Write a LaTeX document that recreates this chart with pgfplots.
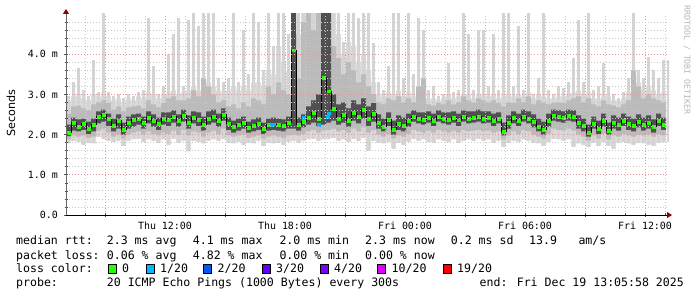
\documentclass[border=0pt]{standalone}
\usepackage{fontspec}
\setmainfont{DejaVu Sans}
\newfontfamily\dvm{DejaVu Sans Mono}
\usepackage{pgfplots}
\usepackage{pgfplotstable}
\pgfplotsset{compat=1.18}
\usepgfplotslibrary{fillbetween}
\usetikzlibrary{arrows.meta}

\definecolor{smokeA}{HTML}{DCDCDC}
\definecolor{smokeS}{HTML}{D4D4D4}
\definecolor{smokeB}{HTML}{BBBBBB}
\definecolor{smokeC}{HTML}{505050}
\definecolor{loss0}{HTML}{26FF00}
\definecolor{loss1}{HTML}{00B8FF}
\definecolor{loss2}{HTML}{0059FF}
\definecolor{loss3}{HTML}{5E00FF}
\definecolor{loss4}{HTML}{7E00FF}
\definecolor{loss10}{HTML}{DD00FF}
\definecolor{loss19}{HTML}{FF0000}
\definecolor{mgrid}{HTML}{F09090}
\definecolor{ngrid}{HTML}{C8C8C8}
\definecolor{arrowred}{HTML}{8B0000}

\newcommand\lf{\dvm\fontsize{11.6pt}{13pt}\selectfont}
\newcommand\tkf{\dvm\fontsize{10pt}{12pt}\selectfont}

% h = hours since Thu 00:00; med = median rtt (ms); lo/hi = min/max ping;
% top = top of the dense light smoke; l2/h2, l3/h3 = inner smoke bands
\pgfplotstableread{
h     med  lo   hi   l2   h2   l3   h3   top
7.05  2.05 1.78 2.95 1.88 2.52 1.96 2.25 2.85
7.30  2.30 1.85 3.30 1.98 2.70 2.10 2.42 2.95
7.55  2.20 1.82 3.65 1.95 2.72 2.08 2.38 3.00
7.80  2.28 1.75 3.10 1.98 2.65 2.12 2.40 2.90
8.05  2.15 1.80 2.95 1.92 2.60 2.02 2.32 2.85
8.30  2.25 1.78 3.85 1.95 2.75 2.08 2.40 3.00
8.55  2.45 1.95 3.05 2.10 2.80 2.28 2.58 2.95
8.80  2.50 1.90 5.20 2.15 2.85 2.32 2.62 3.05
9.05  2.40 1.85 3.05 2.05 2.78 2.22 2.52 2.95
9.30  2.22 1.82 2.95 1.95 2.62 2.08 2.40 2.85
9.55  2.35 1.85 3.00 2.00 2.70 2.15 2.50 2.90
9.80  2.12 1.72 2.90 1.90 2.58 2.00 2.30 2.80
10.05 2.30 1.85 3.00 2.00 2.68 2.15 2.45 2.90
10.30 2.38 1.88 2.95 2.05 2.70 2.20 2.50 2.85
10.55 2.40 1.90 3.05 2.08 2.72 2.25 2.52 2.95
10.80 2.30 1.82 3.10 2.00 2.65 2.15 2.45 2.90
11.05 2.42 1.88 4.90 2.08 2.85 2.28 2.58 3.05
11.30 2.35 1.85 3.70 2.02 2.75 2.20 2.50 3.00
11.55 2.28 1.80 3.00 1.98 2.68 2.12 2.42 2.90
11.80 2.40 1.88 3.20 2.05 2.78 2.25 2.55 3.00
12.05 2.38 1.75 4.00 2.02 2.90 2.22 2.55 3.05
12.30 2.45 1.90 4.50 2.10 2.95 2.30 2.60 3.10
12.55 2.35 1.80 4.90 2.00 2.85 2.20 2.50 3.00
12.80 2.48 1.85 3.20 2.12 2.85 2.32 2.62 3.05
13.05 2.30 1.58 4.85 1.98 2.90 2.15 2.48 3.10
13.30 2.42 1.85 5.20 2.08 3.10 2.28 2.58 3.20
13.55 2.38 1.82 4.70 2.05 2.95 2.22 2.55 3.10
13.80 2.25 1.78 5.20 1.95 3.40 2.10 2.45 3.40
14.05 2.40 1.85 5.20 2.05 3.20 2.25 2.58 3.30
14.30 2.45 1.88 5.20 2.10 3.00 2.30 2.62 3.20
14.55 2.35 1.85 3.40 2.02 2.80 2.20 2.52 3.10
14.80 2.50 1.90 3.30 2.15 2.85 2.35 2.65 3.05
15.05 2.28 1.80 3.40 1.98 2.70 2.12 2.42 3.10
15.30 2.20 1.78 5.20 1.95 2.75 2.05 2.35 3.20
15.55 2.25 1.82 3.30 1.98 2.65 2.10 2.40 3.10
15.80 2.30 1.75 4.60 2.00 2.80 2.15 2.45 3.20
16.05 2.18 1.80 3.50 1.92 2.70 2.05 2.32 3.10
16.30 2.22 1.78 5.20 1.95 2.90 2.08 2.38 3.30
16.55 2.28 1.85 4.80 1.98 2.85 2.12 2.42 3.30
16.80 2.15 1.72 3.60 1.90 2.75 2.02 2.30 3.20
17.05 2.25 1.80 5.20 1.95 3.20 2.10 2.40 3.60
17.30 2.26 1.78 4.20 1.98 3.00 2.12 2.42 3.50
17.55 2.25 1.80 5.20 1.95 3.30 2.10 2.40 4.20
17.80 2.22 1.75 5.20 1.92 3.10 2.08 2.38 3.80
18.05 2.30 1.82 4.50 1.98 3.00 2.15 2.45 3.60
18.30 4.10 1.85 5.20 2.00 5.20 2.15 5.20 5.20
18.55 2.25 1.80 5.20 1.98 3.40 2.10 2.42 4.50
18.80 2.32 1.85 5.20 2.02 4.80 2.18 2.50 5.20
19.05 2.43 1.88 5.20 2.08 5.20 2.25 2.70 5.20
19.30 2.55 1.90 5.20 2.12 4.60 2.30 2.85 5.20
19.55 2.40 1.85 5.20 2.05 5.20 2.22 3.00 5.20
19.80 3.42 1.88 5.20 2.10 5.20 2.25 5.20 5.20
20.05 3.08 1.90 5.20 2.12 5.20 2.30 5.20 5.20
20.30 2.65 1.92 5.20 2.15 4.20 2.35 3.00 5.20
20.55 2.40 1.85 5.20 2.08 3.90 2.25 2.75 4.50
20.80 2.50 1.88 4.30 2.12 3.50 2.30 2.80 4.00
21.05 2.35 1.82 5.20 2.05 3.80 2.20 2.65 4.30
21.30 2.55 1.90 5.20 2.15 3.60 2.35 2.85 4.20
21.55 2.45 1.85 4.90 2.08 3.30 2.28 2.75 3.80
21.80 2.62 1.92 5.20 2.18 3.50 2.40 2.90 4.00
22.05 2.40 1.60 5.20 2.05 3.20 2.22 2.70 3.60
22.30 2.52 1.85 4.27 2.12 3.00 2.32 2.78 3.30
22.55 2.30 1.80 3.30 2.00 2.80 2.15 2.50 3.00
22.80 2.20 1.78 3.10 1.95 2.75 2.08 2.40 2.95
23.05 2.38 1.82 3.70 2.02 2.90 2.22 2.55 3.05
23.30 2.12 1.65 5.20 1.90 2.85 2.00 2.35 3.00
23.55 2.28 1.80 5.20 1.98 2.95 2.12 2.48 3.10
23.80 2.22 1.75 3.40 1.95 2.80 2.08 2.42 2.95
24.05 2.35 1.82 5.20 2.02 2.90 2.20 2.52 3.05
24.30 2.45 1.90 3.50 2.12 2.80 2.32 2.60 2.95
24.55 2.40 1.85 4.90 2.08 3.20 2.28 2.55 3.10
24.80 2.38 1.88 4.60 2.05 3.40 2.25 2.55 3.10
25.05 2.42 1.82 3.10 2.10 2.75 2.30 2.58 2.90
25.30 2.35 1.80 3.20 2.05 2.72 2.22 2.52 2.90
25.55 2.45 1.88 2.95 2.12 2.78 2.32 2.60 2.85
25.80 2.40 1.85 3.00 2.08 2.75 2.28 2.55 2.90
26.05 2.38 1.82 3.77 2.05 2.85 2.25 2.55 3.00
26.30 2.42 1.88 3.05 2.10 2.75 2.30 2.58 2.90
26.55 2.36 1.80 3.10 2.05 2.80 2.22 2.52 2.95
26.80 2.44 1.85 5.20 2.12 2.95 2.32 2.60 3.00
27.05 2.40 1.88 4.50 2.08 2.85 2.28 2.58 3.00
27.30 2.42 1.85 3.10 2.10 2.78 2.30 2.58 2.90
27.55 2.45 1.90 4.60 2.12 2.90 2.32 2.62 3.00
27.80 2.40 1.85 4.60 2.08 2.85 2.28 2.58 3.00
28.05 2.42 1.88 3.20 2.10 2.80 2.30 2.58 2.95
28.30 2.35 1.80 4.50 2.05 2.85 2.22 2.52 3.00
28.55 2.40 1.85 3.10 2.08 2.78 2.28 2.55 2.90
28.80 2.08 1.70 5.20 1.88 2.70 1.98 2.30 2.95
29.05 2.30 1.80 5.20 1.98 2.80 2.15 2.48 3.00
29.30 2.42 1.85 3.20 2.08 2.78 2.28 2.58 2.95
29.55 2.35 1.82 4.70 2.02 2.90 2.22 2.52 3.00
29.80 2.45 1.88 3.10 2.12 2.80 2.32 2.62 2.95
30.05 2.40 1.85 5.20 2.08 2.95 2.28 2.58 3.05
30.30 2.32 1.80 3.00 2.00 2.75 2.18 2.50 2.90
30.55 2.20 1.78 3.40 1.95 2.85 2.08 2.40 3.00
30.80 2.12 1.72 5.20 1.90 2.80 2.00 2.32 2.95
31.05 2.35 1.82 3.10 2.02 2.75 2.20 2.52 2.90
31.30 2.48 1.90 3.00 2.15 2.78 2.35 2.62 2.90
31.55 2.45 1.88 3.20 2.12 2.80 2.32 2.60 2.95
31.80 2.42 1.85 3.15 2.10 2.78 2.30 2.58 2.95
32.05 2.48 1.88 3.30 2.15 2.85 2.35 2.62 3.00
32.30 2.45 1.70 3.90 2.10 2.90 2.32 2.60 3.05
32.55 2.30 1.78 4.85 2.00 2.95 2.15 2.48 3.10
32.80 2.22 1.75 3.30 1.95 2.80 2.08 2.40 3.00
33.05 2.05 1.70 5.20 1.85 2.90 1.95 2.25 3.05
33.30 2.28 1.80 3.10 1.98 2.75 2.15 2.45 2.90
33.55 2.15 1.72 3.20 1.90 2.70 2.02 2.35 2.90
33.80 2.35 1.82 3.77 2.02 2.85 2.20 2.52 3.00
34.05 2.10 1.72 3.20 1.88 2.75 2.00 2.30 2.95
34.30 2.30 1.65 3.00 1.98 2.72 2.15 2.48 2.85
34.55 2.25 1.80 2.90 1.95 2.68 2.10 2.42 2.85
34.80 2.35 1.82 3.05 2.02 2.75 2.22 2.52 2.90
35.05 2.28 1.78 3.40 1.98 2.85 2.12 2.45 3.05
35.30 2.22 1.75 5.20 1.95 3.60 2.08 2.40 3.30
35.55 2.32 1.80 3.60 2.00 3.20 2.18 2.50 3.30
35.80 2.25 1.78 3.40 1.98 2.90 2.10 2.42 3.10
36.05 2.30 1.75 3.93 2.00 3.00 2.15 2.48 3.20
36.30 2.20 1.72 3.60 1.95 2.90 2.05 2.38 3.10
36.55 2.35 1.80 3.40 2.02 2.85 2.22 2.52 3.00
36.80 2.25 1.82 3.85 1.98 2.80 2.12 2.42 3.05
37.05 2.25 1.82 3.85 1.98 2.80 2.12 2.42 3.05
}\smoke

\begin{document}
\begin{tikzpicture}
\fill[white] (0,0) rectangle (697bp,297bp);
\begin{axis}[
  at={(66bp,82bp)}, anchor=south west,
  width=603bp, height=201bp, scale only axis,
  xmin=7.05, xmax=37.2, ymin=0, ymax=5,
  fill between/on layer=main,
  axis x line=bottom, axis y line=left,
  x axis line style={black, line width=0.8bp, shorten >=-3bp,
    -{Triangle[length=5bp,width=6bp,color=arrowred]}},
  y axis line style={black!60, line width=0.8bp, shorten >=-5bp,
    -{Triangle[length=5bp,width=6bp,color=arrowred]}},
  axis on top,
  xtick={9,12,...,36},
  xticklabels={,Thu 12:00,,Thu 18:00,,Fri 00:00,,Fri 06:00,,Fri 12:00},
  minor xtick={8,...,37},
  ytick={0,1,2,3,4},
  yticklabels={0.0,1.0 m,2.0 m,3.0 m,4.0 m},
  minor ytick={0.2,0.4,0.6,0.8,1.2,1.4,1.6,1.8,2.2,2.4,2.6,2.8,3.2,3.4,3.6,3.8,4.2,4.4,4.6,4.8},
  grid=both,
  major grid style={draw=mgrid, line width=0.8bp, dash pattern=on 1bp off 2bp},
  minor grid style={draw=ngrid, line width=0.8bp, dash pattern=on 1bp off 2bp},
  tick align=center,
  major tick length=4bp, minor tick length=3bp,
  tick style={black!70, line width=0.6bp},
  xticklabel style={font=\tkf, anchor=north, inner sep=0pt},
  yticklabel style={font=\tkf, anchor=east, inner sep=0pt},
  xticklabel shift=5bp, yticklabel shift=6bp,
]
% dense light smoke
\addplot[name path=loA, draw=none, const plot, forget plot] table[x=h, y=lo] {\smoke};
\addplot[name path=hiA, draw=none, const plot, forget plot] table[x=h, y=top] {\smoke};
\addplot[fill=smokeA, draw=none, forget plot] fill between[of=loA and hiA];
% thin spikes up to the max ping
\addplot[forget plot, draw=none, mark=none,
  error bars/.cd, y dir=plus, y explicit, error mark=none,
  error bar style={draw=smokeS, line width=2.6bp, solid}]
  table[x expr=\thisrow{h}+0.125, y=lo, y error plus expr=\thisrow{hi}-\thisrow{lo}] {\smoke};
% middle smoke
\addplot[name path=loB, draw=none, const plot, forget plot] table[x=h, y=l2] {\smoke};
\addplot[name path=hiB, draw=none, const plot, forget plot] table[x=h, y=h2] {\smoke};
\addplot[fill=smokeB, draw=none, forget plot] fill between[of=loB and hiB];
% dark smoke near the median
\addplot[name path=loC, draw=none, const plot, forget plot] table[x=h, y=l3] {\smoke};
\addplot[name path=hiC, draw=none, const plot, forget plot] table[x=h, y=h3] {\smoke};
\addplot[fill=smokeC, draw=none, forget plot] fill between[of=loC and hiC];
% median
\addplot[const plot, draw=black, line width=0.9bp, forget plot] table[x=h, y=med] {\smoke};
\addplot[only marks, mark=square*, mark size=1.4bp, color=loss0,
  skip coords between index={120}{121}, forget plot]
  table[x expr=\thisrow{h}+0.125, y=med] {\smoke};
\addplot[only marks, mark=square*, mark size=1.4bp, color=loss1, forget plot]
  coordinates {(17.35,2.24) (17.45,2.26) (18.95,2.43) (19.70,2.24) (20.12,2.45) (20.18,2.53)};
\end{axis}

% y label and watermark
\node[rotate=90, font=\fontsize{11.2pt}{13pt}\selectfont, inner sep=0pt] at (11bp,184bp) {Seconds};
\node[rotate=-90, font=\dvm\fontsize{8.3pt}{10pt}\selectfont, text=black!28, inner sep=0pt] at (687bp,237bp) {RRDTOOL / TOBI OETIKER};

% legend
\begin{scope}[every node/.style={anchor=base west, font=\lf, inner sep=0pt}]
\node at (16bp,52bp) {median rtt:};
\node at (106.7bp,52bp) {2.3 ms avg};
\node at (192.7bp,52bp) {4.1 ms max};
\node at (279.3bp,52bp) {2.0 ms min};
\node at (365bp,52bp) {2.3 ms now};
\node at (450.7bp,52bp) {0.2 ms sd};
\node at (529bp,52bp) {13.9};
\node at (578.3bp,52bp) {am/s};
\node at (16bp,38bp) {packet loss:};
\node at (106.7bp,38bp) {0.06 \% avg};
\node at (192.7bp,38bp) {4.82 \% max};
\node at (279.3bp,38bp) {0.00 \% min};
\node at (365bp,38bp) {0.00 \% now};
\node at (16bp,25bp) {loss color:};
\foreach \bx/\col/\lab in {108/loss0/{0}, 146/loss1/{1/20}, 203.5/loss2/{2/20}, 262/loss3/{3/20}, 320/loss4/{4/20}, 377.5/loss10/{10/20}, 443/loss19/{19/20}}{
  \draw[fill=\col, draw=black, line width=0.7bp] (\bx bp,24bp) rectangle ++(8bp,9bp);
  \node at ({(\bx+14)*1bp},25bp) {\lab};
}
\node at (16bp,11bp) {probe:};
\node at (106.7bp,11bp) {20 ICMP Echo Pings (1000 Bytes) every 300s};
\node[anchor=base east] at (684bp,11bp) {end: Fri Dec 19 13:05:58 2025};
\end{scope}
\pgfresetboundingbox
\path[use as bounding box] (0,0) rectangle (697bp,297bp);
\end{tikzpicture}
\end{document}
